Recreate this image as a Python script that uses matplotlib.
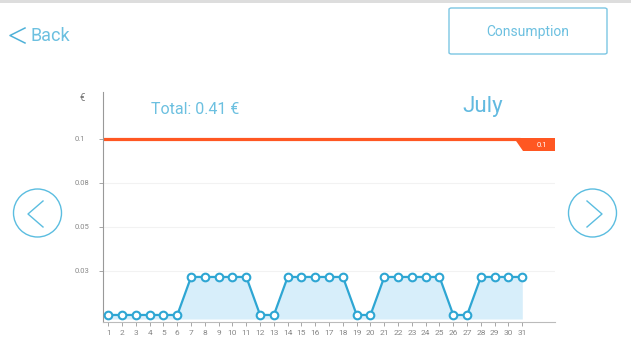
import numpy as np
import matplotlib.pyplot as plt
from matplotlib.patches import Ellipse, FancyBboxPatch, Polygon

# data
days = list(range(1, 32))
cost = [0, 0, 0, 0, 0, 0,
        0.0216, 0.0216, 0.0216, 0.0216, 0.0216, 0, 0,
        0.0216, 0.0216, 0.0216, 0.0216, 0.0216, 0, 0,
        0.0216, 0.0216, 0.0216, 0.0216, 0.0216, 0, 0,
        0.0216, 0.0216, 0.0216, 0.0216]
y_ticks = [0.025, 0.05, 0.075, 0.1]
y_labels = ['0.03', '0.05', '0.08', '0.1']
limit = 0.1
total_text = 'Total: 0.41 €'
month = 'July'

blue = '#2ea6d3'
light = '#6cc0e0'
orange = '#ff5722'

plt.rcParams['font.family'] = ['Roboto', 'DejaVu Sans']

fig = plt.figure(figsize=(6.31, 3.55), dpi=100)
ax = fig.add_axes([103 / 631, 1 - 322 / 355, 452 / 631, 230 / 355])

# area + line
ax.fill_between(days, cost, -0.0023, color='#d7eefa', lw=0)
ax.plot(days, cost, color=blue, lw=1.6, marker='o', ms=5.5,
        mfc='white', mec=blue, mew=1.5, zorder=3)

# limit line with its tag
ax.plot([0.6, 30.8], [limit, limit], color=orange, lw=2.3, zorder=2,
        solid_capstyle='butt')
ax.add_patch(Polygon([[30.40, 0.1008], [33.37, 0.1008], [33.37, 0.0932], [31.05, 0.0932]],
                     closed=True, color=orange, clip_on=False, lw=0, zorder=2))
ax.text(32.4, 0.0968, '0.1', color='white', fontsize=5.5, ha='center', va='center')

ax.set_xlim(0.616, 33.37)
ax.set_ylim(-0.004, 0.1267)
ax.set_xticks(days)
ax.set_xticklabels([str(d) for d in days])
ax.set_yticks(y_ticks)
ax.set_yticklabels(y_labels)
for lab in ax.get_yticklabels():
    lab.set_ha('left')
ax.tick_params(axis='x', length=3, width=0.6, color='#999999', labelsize=6,
               labelcolor='#888888', pad=3)
ax.tick_params(axis='y', length=3, width=0.6, color='#999999', labelsize=5.5,
               labelcolor='#888888', pad=17.2)
ax.grid(axis='y', color='#f2f2f2', lw=0.8)
ax.set_axisbelow(True)
for s in ['top', 'right']:
    ax.spines[s].set_visible(False)
ax.spines['left'].set_color('#999999')
ax.spines['bottom'].set_color('#bbbbbb')
ax.spines['left'].set_linewidth(0.8)
ax.spines['bottom'].set_linewidth(0.8)

# annotations in figure pixels
def fx(px):
    return px / 631

def fy(py):
    return 1 - py / 355

fig.text(fx(82), fy(98), '€', fontsize=7, color='#777777', ha='center', va='center')
fig.text(fx(195), fy(109), total_text, fontsize=11.5, color=light, ha='center',
         va='center')
fig.text(fx(483), fy(106), month, fontsize=16, color='#62bae0', ha='center',
         va='center')

# back link
fig.add_artist(plt.Line2D([fx(25), fx(10), fx(25)], [fy(28), fy(35.5), fy(43)],
                          transform=fig.transFigure, color='#4fb1d8', lw=1.1))
fig.text(fx(31), fy(36), 'Back', fontsize=13, color=light, ha='left',
         va='center')

# button
btn = FancyBboxPatch((fx(449), fy(54)), fx(158), 46 / 355,
                     boxstyle='round,pad=0,rounding_size=0.004',
                     transform=fig.transFigure, fc='none', ec='#7cc6e3', lw=1)
fig.patches.append(btn)
fig.text(fx(528), fy(32), 'Consumption', fontsize=10, color=light, ha='center',
         va='center')

# top shadow
fig.patches.append(plt.Rectangle((0, fy(3)), 1, 3 / 355, transform=fig.transFigure,
                                 color='#dddddd', lw=0))

# nav circles
r = 24
for cx, d in [(37.5, -1), (592.5, 1)]:
    fig.patches.append(Ellipse((fx(cx), fy(213)), 2 * r / 631, 2 * r / 355,
                               transform=fig.transFigure, fc='none', ec='#5bbde0', lw=1))
    xs = [fx(cx - 5.5 * d), fx(cx + 9.5 * d), fx(cx - 5.5 * d)]
    ys = [fy(201), fy(214), fy(227)]
    fig.add_artist(plt.Line2D(xs, ys, transform=fig.transFigure, color='#5bbde0', lw=1))

fig.savefig('out.png', dpi=100)
